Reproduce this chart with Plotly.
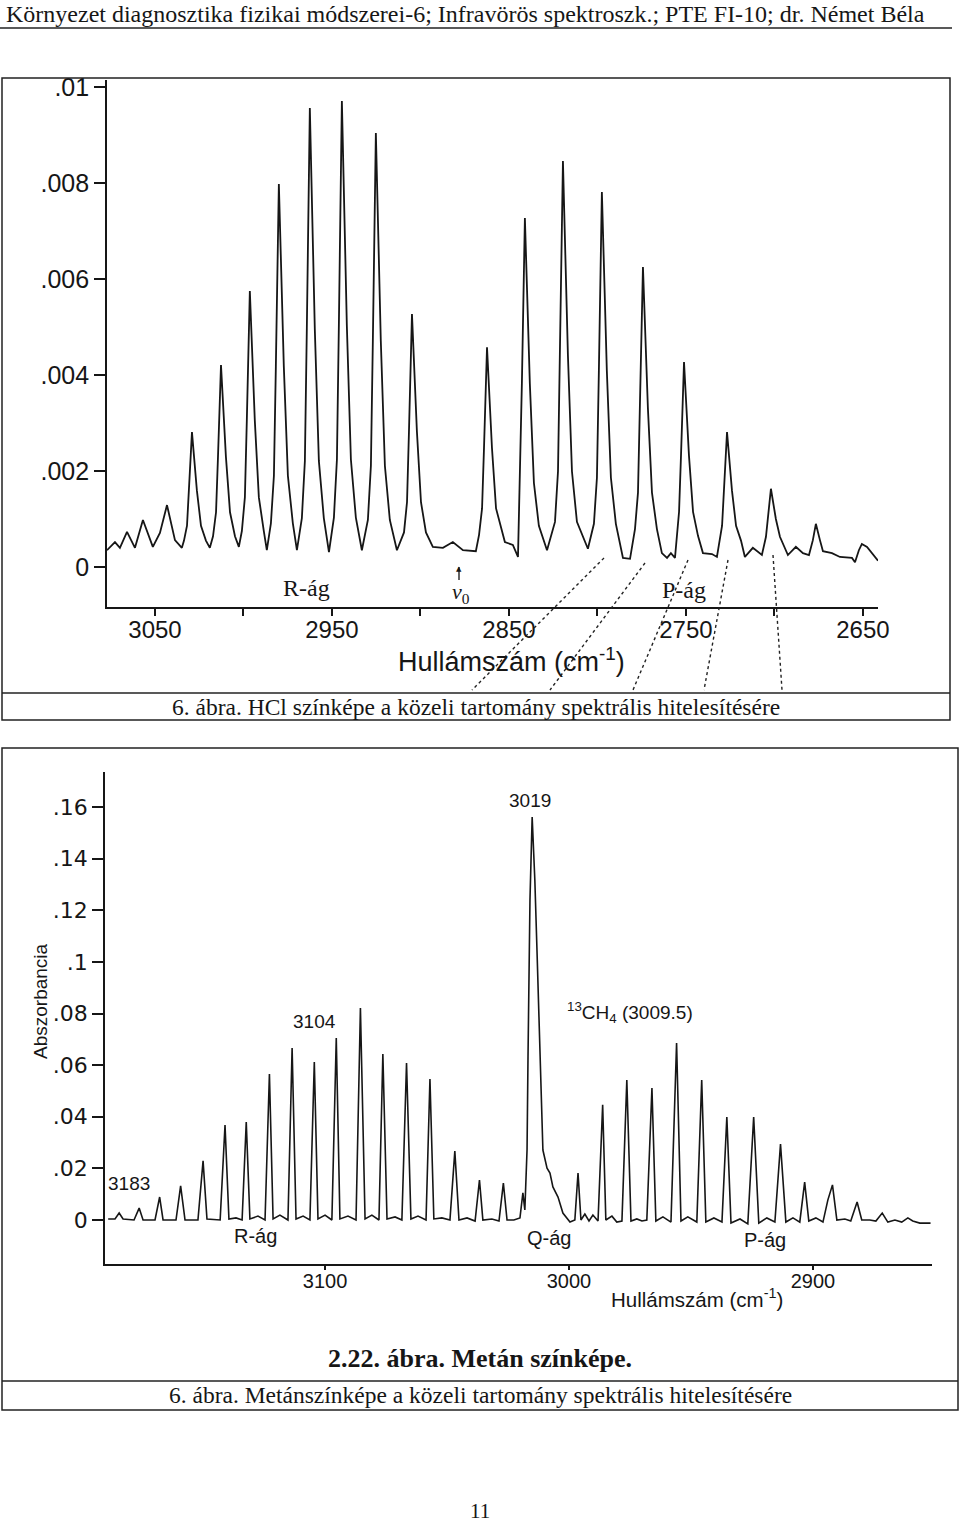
import plotly.graph_objects as go

# ---------------- data: HCl spectrum (top) ----------------
hcl_wn = [3077.1, 3072.6, 3069.8, 3065.8, 3061.3, 3056.8, 3051.2, 3047.2, 3043.2, 3038.7, 3034.8,
          3033.6, 3031.9, 3030.8, 3029.1, 3026.3, 3024.0, 3021.2, 3019.0,
          3017.2, 3015.5, 3014.4, 3012.7, 3009.9, 3007.6, 3004.8, 3002.6,
          3000.9, 2999.2, 2998.1, 2996.4, 2993.6, 2991.3, 2988.5, 2986.8,
          2984.5, 2982.8, 2981.7, 2980.0, 2977.2, 2974.9, 2972.1, 2969.8,
          2967.0, 2965.3, 2964.2, 2962.5, 2959.7, 2957.4, 2954.6, 2951.7,
          2948.9, 2947.2, 2946.1, 2944.4, 2941.6, 2939.3, 2936.5, 2933.1,
          2929.7, 2928.0, 2926.9, 2925.2, 2922.4, 2920.1, 2917.3, 2913.3,
          2909.3, 2907.6, 2906.5, 2904.8, 2902.0, 2899.7, 2896.9,
          2893.0, 2887.3, 2881.7, 2876.0, 2868.7,
          2866.9, 2865.2, 2864.1, 2862.4, 2859.6, 2857.3,
          2852.3, 2847.8, 2844.9,
          2843.8, 2842.7, 2841.0, 2838.2, 2835.9, 2833.1, 2828.5,
          2824.0, 2822.3, 2821.2, 2819.5, 2816.7, 2814.4, 2811.6, 2805.4,
          2802.0, 2800.3, 2799.2, 2797.5, 2794.7, 2792.4, 2789.6, 2785.6, 2781.6,
          2778.8, 2777.1, 2776.0, 2774.3, 2771.5, 2769.2, 2766.4,
          2763.6, 2760.7, 2758.5, 2756.2,
          2753.9, 2752.8, 2751.1, 2748.3, 2746.0, 2743.2,
          2740.4, 2735.3, 2732.5,
          2729.6, 2728.5, 2726.8, 2724.0, 2721.7, 2718.9,
          2716.7, 2712.2, 2707.1,
          2704.8, 2703.7, 2702.0, 2699.2, 2696.9,
          2692.4, 2687.9, 2683.9, 2680.5,
          2678.3, 2676.6, 2674.3, 2672.6,
          2667.5, 2663.0, 2656.2, 2654.5,
          2652.3, 2650.6, 2647.7, 2644.9, 2641.5]
hcl_abs = [0.00035, 0.00052, 0.00040, 0.00073, 0.00040, 0.00098, 0.00042, 0.00071, 0.00129, 0.00056, 0.00040,
           0.00055, 0.00086, 0.00159, 0.00281, 0.00159, 0.00086, 0.00055, 0.00040,
           0.00064, 0.00114, 0.00229, 0.00421, 0.00229, 0.00114, 0.00064, 0.00042,
           0.00075, 0.00145, 0.00306, 0.00575, 0.00306, 0.00145, 0.00075, 0.00035,
           0.00091, 0.00190, 0.00418, 0.00798, 0.00418, 0.00190, 0.00091, 0.00035,
           0.00102, 0.00221, 0.00497, 0.00956, 0.00497, 0.00221, 0.00102, 0.00031,
           0.00103, 0.00224, 0.00504, 0.00971, 0.00504, 0.00224, 0.00103, 0.00035,
           0.00098, 0.00211, 0.00471, 0.00904, 0.00471, 0.00211, 0.00098, 0.00035,
           0.00072, 0.00135, 0.00282, 0.00527, 0.00282, 0.00135, 0.00072,
           0.00042, 0.00040, 0.00052, 0.00035, 0.00033,
           0.00067, 0.00122, 0.00248, 0.00458, 0.00248, 0.00122,
           0.00052, 0.00046, 0.00021,
           0.00175, 0.00382, 0.00727, 0.00382, 0.00175, 0.00086, 0.00035,
           0.00094, 0.00199, 0.00442, 0.00846, 0.00442, 0.00199, 0.00094, 0.00038,
           0.00090, 0.00186, 0.00409, 0.00781, 0.00409, 0.00186, 0.00090, 0.00019, 0.00017,
           0.00079, 0.00155, 0.00331, 0.00625, 0.00331, 0.00155, 0.00079,
           0.00029, 0.00019, 0.00029, 0.00019,
           0.00115, 0.00232, 0.00427, 0.00232, 0.00115, 0.00065,
           0.00029, 0.00027, 0.00021,
           0.00086, 0.00159, 0.00281, 0.00159, 0.00086, 0.00055,
           0.00021, 0.00040, 0.00025,
           0.00063, 0.00100, 0.00163, 0.00100, 0.00063,
           0.00025, 0.00042, 0.00029, 0.00025,
           0.00056, 0.00090, 0.00056, 0.00033,
           0.00029, 0.00021, 0.00019, 0.00010,
           0.00035, 0.00048, 0.00042, 0.00029, 0.00013]
hcl_xticks = [3050, 2950, 2850, 2750, 2650]
hcl_xtick_text = ["3050", "2950", "2850", "2750", "2650"]
hcl_xminor = [3000, 2900, 2800, 2700]
hcl_yticks = [0, 0.002, 0.004, 0.006, 0.008, 0.01]
hcl_ytick_text = ["0", ".002", ".004", ".006", ".008", ".01"]

# ---------------- data: CH4 spectrum (bottom) ----------------
ch4_wn = [3188.9, 3186.1, 3184.4, 3182.8, 3178.3, 3176.2, 3174.6, 3169.7, 3167.8, 3166.4,
          3161.1, 3159.2, 3157.4, 3152.1, 3150.0, 3148.4, 3143.0, 3141.0, 3139.4, 3136.5,
          3134.0, 3132.3, 3130.8, 3127.5, 3124.6, 3122.8, 3121.3, 3118.5, 3115.2, 3113.5,
          3111.9, 3109.0, 3106.2, 3104.4, 3102.9, 3100.0, 3097.2, 3095.4, 3093.9, 3090.6,
          3087.3, 3085.5, 3083.6, 3080.8, 3077.9, 3076.3, 3074.6, 3071.3, 3068.5, 3066.6,
          3064.8, 3061.9, 3058.6, 3057.0, 3055.4, 3052.1, 3048.8, 3046.8, 3045.1, 3041.8,
          3038.5, 3036.7, 3035.3, 3031.6, 3028.7, 3026.9, 3025.4, 3022.6, 3020.1, 3018.9,
          3018.1, 3017.2, 3016.8, 3016.0, 3015.1, 3014.0, 3013.0, 3011.9, 3010.7, 3009.0,
          3007.8, 3006.6, 3004.5, 3002.5, 2999.6, 2997.6, 2996.3, 2995.1, 2993.5, 2991.8,
          2990.2, 2988.1, 2986.2, 2984.9, 2982.4, 2980.4, 2978.3, 2976.3, 2974.6, 2972.2,
          2970.1, 2968.1, 2966.0, 2964.4, 2961.5, 2958.2, 2955.9, 2954.1, 2951.3, 2947.6,
          2945.6, 2943.9, 2940.6, 2937.3, 2935.3, 2933.6, 2929.9, 2926.7, 2924.3, 2922.2,
          2918.9, 2915.6, 2913.3, 2911.1, 2908.2, 2905.4, 2903.4, 2901.7, 2898.8, 2895.9,
          2893.9, 2892.0, 2890.2, 2886.9, 2884.5, 2881.9, 2880.0, 2876.7, 2874.2, 2871.6,
          2869.3, 2866.4, 2863.6, 2861.1, 2859.1, 2856.2, 2851.8]
ch4_abs = [0.0004, 0.0004, 0.0027, 0.0004, 0.0, 0.0046, 0.0, 0.0, 0.0089, 0.0,
           0.0, 0.0132, 0.0, 0.0, 0.0229, 0.0004, 0.0, 0.0368, 0.0004, 0.0008,
           0.0, 0.0380, 0.0004, 0.0015, 0.0, 0.0566, 0.0004, 0.0019, 0.0, 0.0666,
           0.0004, 0.0015, 0.0, 0.0612, 0.0004, 0.0019, 0.0, 0.0705, 0.0004, 0.0015,
           0.0, 0.0821, 0.0004, 0.0019, 0.0, 0.0643, 0.0004, 0.0012, 0.0, 0.0608,
           0.0004, 0.0015, 0.0, 0.0546, 0.0004, 0.0008, 0.0, 0.0267, 0.0, 0.0008,
           -0.0004, 0.0155, 0.0, 0.0004, -0.0004, 0.0143, 0.0, 0.0, 0.0008, 0.0105,
           0.0039, 0.0271, 0.0632, 0.1240, 0.1561, 0.1317, 0.1007, 0.0632, 0.0271, 0.0201,
           0.0182, 0.0128, 0.0089, 0.0027, -0.0008, 0.0, 0.0182, 0.0, 0.0023, -0.0004,
           0.0019, -0.0004, 0.0446, 0.0, 0.0015, -0.0008, -0.0004, 0.0542, -0.0004, 0.0004,
           -0.0004, 0.0, 0.0511, -0.0004, 0.0012, -0.0008, 0.0686, -0.0004, 0.0012, -0.0008,
           0.0542, -0.0008, 0.0008, -0.0008, 0.0399, -0.0012, 0.0004, -0.0015, 0.0399, -0.0012,
           0.0008, -0.0008, 0.0294, -0.0008, 0.0008, -0.0008, 0.0147, -0.0004, 0.0008, -0.0008,
           0.0077, 0.0136, 0.0, 0.0004, -0.0004, 0.0070, 0.0, 0.0, -0.0004, 0.0027,
           -0.0008, 0.0, -0.0008, 0.0008, -0.0004, -0.0012, -0.0012]
ch4_xticks = [3100, 3000, 2900]
ch4_xtick_text = ["3100", "3000", "2900"]
ch4_yticks = [0, 0.02, 0.04, 0.06, 0.08, 0.10, 0.12, 0.14, 0.16]
ch4_ytick_text = ["0", ".02", ".04", ".06", ".08", ".1", ".12", ".14", ".16"]

# ---------------- page geometry ----------------
W, H = 960, 1524
def px(x):
    return x / W
def py(y):
    return 1 - y / H

INK = "#161616"
SERIF = "Liberation Serif"
SANS = "Liberation Sans"

fig = go.Figure()
fig.add_trace(go.Scatter(x=hcl_wn, y=hcl_abs, mode="lines",
                         line=dict(color=INK, width=1.8), xaxis="x", yaxis="y",
                         hoverinfo="skip"))
fig.add_trace(go.Scatter(x=ch4_wn, y=ch4_abs, mode="lines",
                         line=dict(color=INK, width=1.6), xaxis="x2", yaxis="y2",
                         hoverinfo="skip"))

axis_common = dict(showgrid=False, zeroline=False, showline=True, linecolor=INK,
                   linewidth=1.6, ticks="outside", tickcolor=INK, tickwidth=1.6,
                   automargin=False)

fig.update_layout(
    width=W, height=H, margin=dict(l=0, r=0, t=0, b=0, pad=0, autoexpand=False),
    paper_bgcolor="white", plot_bgcolor="white", showlegend=False,
    xaxis=dict(domain=[px(107), px(878)], range=[3077.1, 2641.5], anchor="y",
               tickvals=hcl_xticks, ticktext=hcl_xtick_text, ticklen=7,
               minor=dict(tickvals=hcl_xminor, ticks="outside", ticklen=7,
                          tickcolor=INK, tickwidth=1.6, showgrid=False),
               tickfont=dict(family=SANS, size=24, color=INK), ticklabelstandoff=-7,
               **axis_common),
    yaxis=dict(domain=[py(607), py(80)], range=[-0.000833, 0.010146], anchor="x",
               tickvals=hcl_yticks, ticktext=hcl_ytick_text, ticklen=11,
               tickfont=dict(family=SANS, size=25, color=INK),
               **axis_common),
    xaxis2=dict(domain=[px(105), px(932)], range=[3190.2, 2851.2], anchor="y2",
                tickvals=ch4_xticks, ticktext=ch4_xtick_text, ticklen=4,
                tickfont=dict(family=SANS, size=20, color=INK), ticklabelstandoff=-6,
                **axis_common),
    yaxis2=dict(domain=[py(1264), py(772)], range=[-0.01705, 0.17357], anchor="x2",
                tickvals=ch4_yticks, ticktext=ch4_ytick_text, ticklen=11,
                tickfont=dict(family="DejaVu Sans", size=22, color=INK),
                **axis_common),
)

shapes = []
def hline(x0, x1, y, w=1.5):
    shapes.append(dict(type="line", xref="paper", yref="paper", x0=px(x0), x1=px(x1),
                       y0=py(y), y1=py(y), line=dict(color="#222", width=w)))

def rect(x0, y0, x1, y1, w=1.5):
    shapes.append(dict(type="rect", xref="paper", yref="paper", x0=px(x0), x1=px(x1),
                       y0=py(y1), y1=py(y0), line=dict(color="#222", width=w)))

def seg(x0, y0, x1, y1, w=1.4, dash="dot"):
    shapes.append(dict(type="line", xref="paper", yref="paper", x0=px(x0), x1=px(x1),
                       y0=py(y0), y1=py(y1), line=dict(color="#222", width=w, dash=dash)))

# header rule
hline(0, 952, 28, w=1.4)
# boxes
rect(2, 78, 950, 720)
hline(2, 950, 693)
rect(2, 748, 958, 1410)
hline(2, 958, 1381)
# dotted leader lines (top figure)
seg(604, 558, 472, 690)
seg(645, 563, 550, 690)
seg(688, 560, 633, 690)
seg(728, 560, 704, 690)
seg(773, 555, 782, 690)
# arrow shaft pointing to nu0
seg(459, 580, 459, 567, w=1.4, dash="solid")

fig.update_layout(shapes=shapes)

ann = []
def text(x, y, s, size, family=SANS, xanchor="center", angle=0, color=INK):
    ann.append(dict(x=px(x), y=py(y), xref="paper", yref="paper", text=s,
                    showarrow=False, xanchor=xanchor, yanchor="middle",
                    textangle=angle, font=dict(family=family, size=size, color=color)))

# header
text(4, 14, "Környezet diagnosztika fizikai módszerei-6; Infravörös spektroszk.; PTE FI-10; dr. Német Béla",
     24, family=SERIF, xanchor="left")

# top figure texts
text(306, 588, "R-ág", 24, family=SERIF)
text(684, 590, "P-ág", 24, family=SERIF)
text(461, 593, "<i>ν</i><sub>0</sub>", 22, family=SERIF)
text(459, 569, "▲", 7, family="DejaVu Sans")
text(511, 660, "Hullámszám (cm<sup>-1</sup>)", 27)
text(476, 707, "6. ábra. HCl színképe a közeli tartomány spektrális hitelesítésére", 23.5, family=SERIF)

# bottom figure texts
text(129, 1183, "3183", 19)
text(314, 1021, "3104", 19)
text(530, 801, "3019", 19)
text(565, 1012, "<sup>13</sup>CH<sub>4</sub> (3009.5)", 19, xanchor="left")
text(40, 1001, "Abszorbancia", 19, angle=-90)
text(255, 1236, "R-ág", 20)
text(549, 1238, "Q-ág", 20)
text(765, 1240, "P-ág", 20)
text(697, 1298, "Hullámszám (cm<sup>-1</sup>)", 20.5)
text(480, 1358, "<b>2.22. ábra. Metán színképe.</b>", 26, family=SERIF)
text(480, 1395, "6. ábra. Metánszínképe a közeli tartomány spektrális hitelesítésére", 23.5, family=SERIF)
text(480, 1511, "11", 21, family=SERIF)

fig.update_layout(annotations=ann)

page_css = ("document.documentElement.style.margin='0px';"
            "document.documentElement.style.overflow='hidden';"
            "document.body.style.margin='0px';"
            "document.body.style.padding='0px';"
            "document.body.style.overflow='hidden';")

fig.write_html("out.html", config={"displayModeBar": False}, post_script=page_css)
